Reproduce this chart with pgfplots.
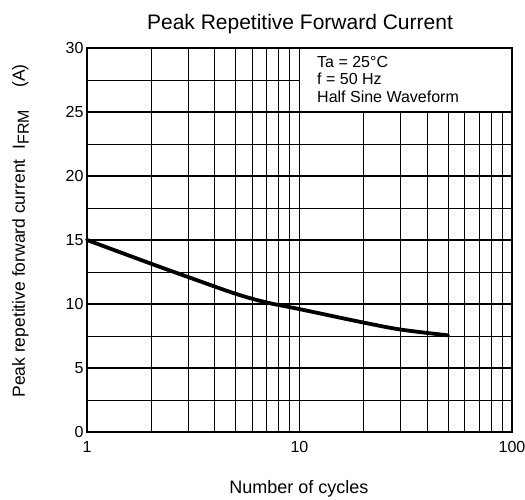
\documentclass[border=0pt]{standalone}
\usepackage{fontspec}
\setmainfont{Liberation Sans}
\usepackage{pgfplots}
\pgfplotsset{compat=1.18}
\begin{document}
\begin{tikzpicture}
\useasboundingbox (-87pt,-68pt) rectangle (438pt,432pt);
\begin{axis}[
 at={(0pt,0pt)}, anchor=south west,
 width=425pt, height=384pt, scale only axis,
 xmode=log, log basis x=10,
 xmin=1, xmax=100, ymin=0, ymax=30,
 xtick={1,10,100}, xticklabels={1,10,100},
 minor xtick={2,3,4,5,6,7,8,9,20,30,40,50,60,70,80,90},
 ytick={0,5,10,15,20,25,30},
 yticklabels={0,5,10,15,20,25,30},
 minor ytick={2.5,7.5,12.5,17.5,22.5,27.5},
 grid=both,
 major grid style={black, line width=1.5pt},
 minor grid style={black, line width=0.9pt},
 axis line style={black, line width=2.7pt},
 major tick length=0pt, minor tick length=0pt,
 tick style={draw=none},
 ticklabel style={font=\fontsize{16}{18}\selectfont},
 xticklabel style={anchor=base, yshift=-21pt},
 /pgf/number format/assume math mode=true,
 clip=false,
]
\addplot[black, line width=3.8pt, smooth, line cap=round] coordinates {
 (1,15) (2,13.15) (3,12.1) (5,10.8) (7,10.12) (10,9.6) (20,8.55) (30,8.0) (50,7.55)
};
\fill[white] (axis cs:10,25) rectangle (axis cs:100,30);
\draw[black, line width=1.5pt] (axis cs:10,30) -- (axis cs:10,25) -- (axis cs:100,25);
\draw[black, line width=2.7pt] (axis cs:10,30) -- (axis cs:100,30) -- (axis cs:100,25);
\end{axis}
\begin{scope}[font=\fontsize{16}{18}\selectfont]
\node[anchor=base west, inner sep=0pt] at (230pt,364pt) {Ta = 25°C};
\node[anchor=base west, inner sep=0pt] at (230pt,347pt) {f = 50 Hz};
\node[anchor=base west, inner sep=0pt] at (230pt,329pt) {Half Sine Waveform};
\end{scope}
\node[anchor=base, inner sep=0pt, font=\fontsize{21}{24}\selectfont] at (213pt,402pt) {Peak Repetitive Forward Current};
\node[anchor=base, inner sep=0pt, font=\fontsize{18}{20}\selectfont] at (212pt,-62pt) {Number of cycles};
\node[anchor=base, inner sep=0pt, rotate=90, font=\fontsize{17.5}{20}\selectfont] at (-62pt,201pt) {Peak repetitive forward current\hspace{10pt}I\raisebox{-4pt}{\fontsize{16}{18}\selectfont FRM}\hspace{22pt}(A)};
\end{tikzpicture}
\end{document}
